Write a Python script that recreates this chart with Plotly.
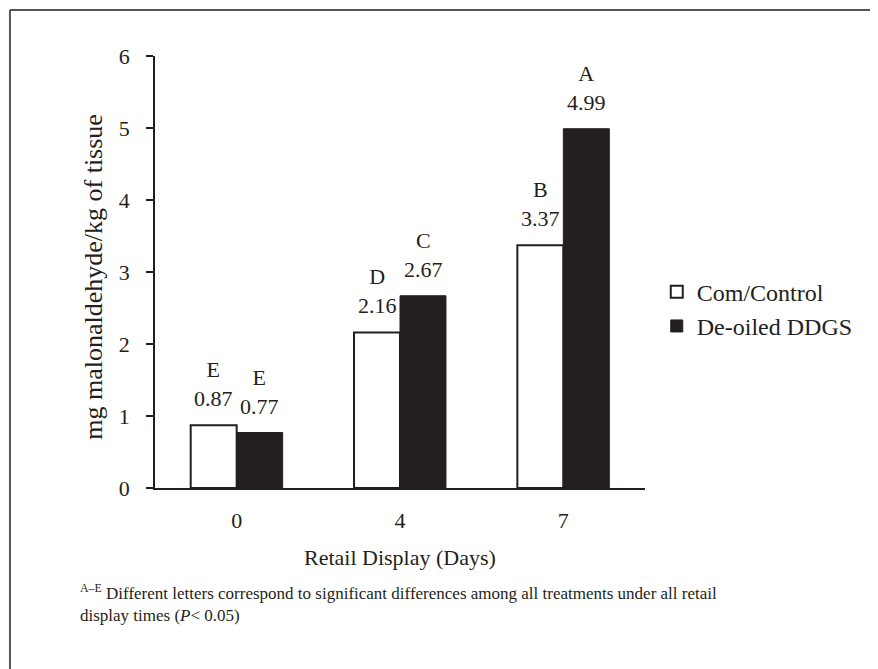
import plotly.graph_objects as go

days = ["0", "4", "7"]
control = [0.87, 2.16, 3.37]
deoiled = [0.77, 2.67, 4.99]
control_letters = ["E", "D", "B"]
deoiled_letters = ["E", "C", "A"]
y_ticks = [0, 1, 2, 3, 4, 5, 6]

INK = "#231f20"
FONT = "Times New Roman, Liberation Serif, serif"

fig = go.Figure()
fig.add_trace(go.Bar(
    x=days, y=control, name="Com/Control",
    marker=dict(color="white", line=dict(color=INK, width=2)),
))
fig.add_trace(go.Bar(
    x=days, y=deoiled, name="De-oiled DDGS",
    marker=dict(color=INK, line=dict(color=INK, width=1)),
))

# letter + value labels above each bar (x given as category index)
for vals, letters, shift in [(control, control_letters, -23), (deoiled, deoiled_letters, 23)]:
    for i, (v, l) in enumerate(zip(vals, letters)):
        fig.add_annotation(
            x=i, y=v, xshift=shift, yshift=12, yanchor="bottom",
            text=f"{l}<br>{v:.2f}", showarrow=False,
            font=dict(family=FONT, size=22, color=INK),
        )

fig.add_annotation(
    x=-0.159, y=0.488, xref="paper", yref="paper", textangle=-90,
    text="mg malonaldehyde/kg of tissue", showarrow=False,
    font=dict(family=FONT, size=26, color=INK),
)
fig.add_annotation(
    x=0.5, y=-0.162, xref="paper", yref="paper", yanchor="middle",
    text="Retail Display (Days)", showarrow=False,
    font=dict(family=FONT, size=22, color=INK),
)
fig.add_annotation(
    x=-0.157, y=-0.266, xref="paper", yref="paper", xanchor="left", yanchor="middle",
    align="left", showarrow=False,
    text="<sup>A–E</sup> Different letters correspond to significant differences among all treatments under all retail<br>display times (<i>P</i>< 0.05)",
    font=dict(family=FONT, size=17, color=INK),
)

# outer frame (top and left edges)
fig.add_shape(type="line", xref="paper", yref="paper", x0=-0.296, x1=1.5, y0=1.1065, y1=1.1065,
              line=dict(color="#555555", width=2))
fig.add_shape(type="line", xref="paper", yref="paper", x0=-0.296, x1=-0.296, y0=-0.5, y1=1.1065,
              line=dict(color="#555555", width=2))

fig.update_layout(
    width=870, height=661,
    margin=dict(l=147, r=233, t=48, b=181),
    plot_bgcolor="white", paper_bgcolor="white",
    barmode="group", bargap=0.437, bargroupgap=0,
    font=dict(family=FONT, color=INK),
    legend=dict(
        x=1.024, y=0.414, xanchor="left", yanchor="middle",
        font=dict(family=FONT, size=24, color=INK), tracegroupgap=0,
    ),
)
fig.update_xaxes(
    type="category", range=[-0.5, 2.5], showline=True, linecolor=INK, linewidth=1.5, ticks="",
    tickfont=dict(family=FONT, size=22, color=INK), ticklabelstandoff=12, showgrid=False,
)
fig.update_yaxes(
    range=[0, 6], tickvals=y_ticks, showline=True, linecolor=INK, linewidth=1.5,
    ticks="outside", ticklen=7, tickcolor=INK, tickwidth=1.5,
    tickfont=dict(family=FONT, size=22, color=INK), ticklabelstandoff=12,
    showgrid=False, zeroline=False,
)

fig.write_html("out.html")
